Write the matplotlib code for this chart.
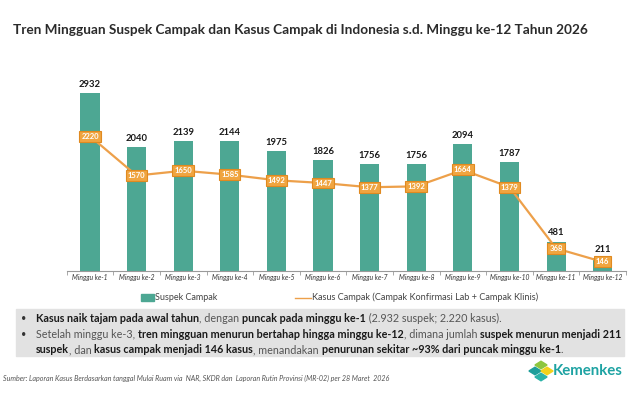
import matplotlib
matplotlib.use("Agg")
import matplotlib.pyplot as plt
from matplotlib.patches import Rectangle, RegularPolygon

categories = ["Minggu ke-1", "Minggu ke-2", "Minggu ke-3", "Minggu ke-4", "Minggu ke-5", "Minggu ke-6",
              "Minggu ke-7", "Minggu ke-8", "Minggu ke-9", "Minggu ke-10", "Minggu ke-11", "Minggu ke-12"]
suspek = [2932, 2040, 2139, 2144, 1975, 1826, 1756, 1756, 2094, 1787, 481, 211]
kasus = [2220, 1570, 1650, 1585, 1492, 1447, 1377, 1392, 1664, 1379, 368, 146]

title = "Tren Mingguan Suspek Campak dan Kasus Campak di Indonesia s.d. Minggu ke-12 Tahun 2026"
legend_bar = "Suspek Campak"
legend_line = "Kasus Campak (Campak Konfirmasi Lab + Campak Klinis)"
source = ("Sumber: Laporan Kasus Berdasarkan tanggal Mulai Ruam via  NAR, SKDR dan  Laporan Rutin Provinsi "
          "(MR-02) per 28 Maret  2026")
bullet_lines = [
    [("Kasus naik tajam pada awal tahun", True), (", dengan ", False), ("puncak pada minggu ke-1", True),
     (" (2.932 suspek; 2.220 kasus).", False)],
    [("Setelah minggu ke-3, ", False), ("tren mingguan menurun bertahap hingga minggu ke-12", True),
     (", dimana jumlah ", False), ("suspek menurun menjadi 211", True)],
    [("suspek", True), (", dan ", False), ("kasus campak menjadi 146 kasus", True), (", menandakan ", False),
     ("penurunan sekitar ~93% dari puncak minggu ke-1", True), (".", False)],
]

TEAL = "#4DA793"
ORANGE = "#EDA04A"
FONT = "Lato"

W, H = 638, 399
fig = plt.figure(figsize=(W / 100, H / 100), dpi=100)
fig.patch.set_facecolor("white")

def fx(px):
    return px / W

def fy(py):
    return 1 - py / H

ax = fig.add_axes([fx(66.7), fy(270.7), fx(626) - fx(66.7), fy(76.8) - fy(270.7)])
x = list(range(len(categories)))
ax.bar(x, suspek, width=0.41, color=TEAL, zorder=2)
ax.plot(x, kasus, color=ORANGE, lw=1.6, zorder=3)
ax.set_xlim(-0.5, len(categories) - 0.5)
ax.set_ylim(0, 3200)
for s in ["top", "right", "left"]:
    ax.spines[s].set_visible(False)
ax.spines["bottom"].set_color("#9A9A9A")
ax.spines["bottom"].set_linewidth(0.8)
ax.set_yticks([])
ax.set_xticks([i + 0.5 for i in range(-1, len(categories))], minor=False)
ax.set_xticklabels([])
ax.tick_params(axis="x", which="major", length=3, color="#9A9A9A", width=0.6)
ax.set_xticks(x, minor=True)
ax.set_xticklabels(categories, minor=True, fontsize=4.9, color="#333333", family=FONT, style="italic")
ax.tick_params(axis="x", which="minor", length=0, pad=2.5)

for xi, v in zip(x, suspek):
    ax.annotate(f"{v}", (xi, v), xytext=(0, 3), textcoords="offset points", ha="center", va="bottom",
                fontsize=6.8, fontweight="bold", color="#1a1a1a", family=FONT)
for xi, v in zip(x, kasus):
    ax.annotate(f"{v}", (xi, v), xytext=(0, 0), textcoords="offset points", ha="center", va="center",
                fontsize=5.5, fontweight="bold", color="white", family=FONT, zorder=5,
                bbox=dict(boxstyle="square,pad=0.25", fc="#F0A540", ec="#E08A20", lw=0.8))

# title
fig.text(fx(13), fy(30), title, fontsize=9.8, fontweight="bold", color="#2b2b2b", family=FONT, va="center")

# legend
fig.patches.append(Rectangle((fx(141), fy(301)), fx(13), fy(294) - fy(301), transform=fig.transFigure,
                             color=TEAL))
fig.text(fx(155), fy(297.5), legend_bar, fontsize=6.5, color="#444444", family=FONT, va="center")
fig.lines.append(plt.Line2D([fx(295), fx(311)], [fy(297.5), fy(297.5)], transform=fig.transFigure,
                            color=ORANGE, lw=1.0))
fig.text(fx(312), fy(297.5), legend_line, fontsize=6.6, color="#444444", family=FONT, va="center")

# gray box
fig.patches.append(Rectangle((fx(16), fy(356)), fx(624) - fx(16), fy(309) - fy(356),
                             transform=fig.transFigure, color="#E2E2E2", zorder=0))
renderer = fig.canvas.get_renderer()
ys = [318.5, 334, 349.5]
for i, (line, yy) in enumerate(zip(bullet_lines, ys)):
    if i < 2:
        fig.text(fx(21), fy(yy), "•", fontsize=6.5, color="#333333", family=FONT, va="center")
    cur = fx(36)
    for txt, bold in line:
        t = fig.text(cur, fy(yy), txt, fontsize=7.75, family=FONT, va="center",
                     fontweight="bold" if bold else "normal",
                     color="#1a1a1a" if bold else "#555555")
        bb = t.get_window_extent(renderer=renderer)
        cur = bb.x1 / W

# source
fig.text(fx(3), fy(378), source, fontsize=5.1, style="italic", color="#555555", family=FONT, va="center")

# Kemenkes logo
cx, cy = 541, 371
for dx, dy, c in [(-6, 0, "#1E9E9A"), (0, -6, "#8DC63F"), (6, 0, "#F2D21B"), (0, 6, "#2BB3A8")]:
    fig.patches.append(RegularPolygon((fx(cx + dx), fy(cy + dy)), numVertices=4, radius=0.0095,
                                      orientation=0, transform=fig.transFigure, color=c))
fig.text(fx(553), fy(371), "Kemenkes", fontsize=10.8, fontweight="bold", color="#1EA3A3",
         family=FONT, va="center")

fig.savefig("out.png", dpi=100)
